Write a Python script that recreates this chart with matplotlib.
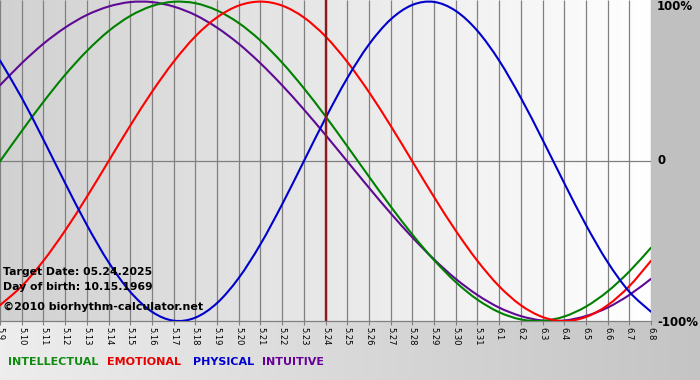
import numpy as np
import matplotlib
matplotlib.use("Agg")
import matplotlib.pyplot as plt
from matplotlib.patches import Rectangle, PathPatch
from matplotlib.path import Path

# ---- data ----
day_labels = ["5.9", "5.10", "5.11", "5.12", "5.13", "5.14", "5.15", "5.16", "5.17", "5.18",
              "5.19", "5.20", "5.21", "5.22", "5.23", "5.24", "5.25", "5.26", "5.27", "5.28",
              "5.29", "5.30", "5.31", "6.1", "6.2", "6.3", "6.4", "6.5", "6.6", "6.7", "6.8"]
target_label = "5.24"

intellectual = [0.0, 0.189, 0.372, 0.541, 0.690, 0.815, 0.910, 0.972, 0.999, 0.990,
                0.945, 0.866, 0.756, 0.618, 0.458, 0.282, 0.095, -0.095, -0.282, -0.458,
                -0.618, -0.756, -0.866, -0.945, -0.990, -0.999, -0.972, -0.910, -0.815, -0.690,
                -0.541]
emotional = [-0.901, -0.782, -0.623, -0.434, -0.223, 0.0, 0.223, 0.434, 0.623, 0.782,
             0.901, 0.975, 1.0, 0.975, 0.901, 0.782, 0.623, 0.434, 0.223, 0.0,
             -0.223, -0.434, -0.623, -0.782, -0.901, -0.975, -1.0, -0.975, -0.901, -0.782,
             -0.623]
physical = [0.631, 0.398, 0.136, -0.136, -0.398, -0.631, -0.817, -0.942, -0.998, -0.979,
            -0.888, -0.731, -0.520, -0.270, 0.0, 0.270, 0.520, 0.731, 0.888, 0.979,
            0.998, 0.942, 0.817, 0.631, 0.398, 0.136, -0.136, -0.398, -0.631, -0.817,
            -0.942]
intuitive = [0.476, 0.614, 0.736, 0.837, 0.916, 0.969, 0.997, 0.997, 0.969, 0.916,
             0.837, 0.736, 0.614, 0.476, 0.325, 0.165, 0.0, -0.165, -0.325, -0.476,
             -0.614, -0.736, -0.837, -0.916, -0.969, -0.997, -0.997, -0.969, -0.916, -0.837,
             -0.736]

series_names = ["INTELLECTUAL", "EMOTIONAL", "PHYSICAL", "INTUITIVE"]
series_colors = ["#008000", "#ff0000", "#0000cc", "#5e0a94"]
legend_colors = ["#108a10", "#e60000", "#0000cc", "#660099"]

info_lines = ["Target Date: 05.24.2025", "Day of birth: 10.15.1969", "\u00a92010 biorhythm-calculator.net"]
y_labels = ["100%", "0", "-100%"]


def smooth_path(xs, ys):
    """Cubic Bezier path through the data points (Catmull-Rom tangents)."""
    pts = np.column_stack([xs, ys]).astype(float)
    ext = np.vstack([pts[0], pts, pts[-1]])
    verts = [pts[0]]
    codes = [Path.MOVETO]
    for i in range(len(pts) - 1):
        p0, p1, p2, p3 = ext[i], ext[i + 1], ext[i + 2], ext[i + 3]
        c1 = p1 + (p2 - p0) / 6.0
        c2 = p2 - (p3 - p1) / 6.0
        verts += [c1, c2, p2]
        codes += [Path.CURVE4] * 3
    return Path(verts, codes)


W, H = 700, 380
fig = plt.figure(figsize=(W / 100, H / 100), dpi=100)

# figure background gradient
bg = fig.add_axes([0, 0, 1, 1], zorder=-10)
grad = np.linspace(0.93, 0.77, 256)[None, :]
bg.imshow(np.dstack([grad, grad, grad]), aspect="auto", extent=[0, 1, 0, 1])
bg.set_axis_off()
fig.patches.append(Rectangle((651 / W, 59 / H), 1, 1, transform=fig.transFigure,
                             color="#c0c0c0", zorder=-5))

x = np.arange(len(day_labels))
ax = fig.add_axes([0, 59 / H, 651 / W, 321 / H])
ax.set_xlim(0, len(day_labels) - 1)
ax.set_ylim(-1.0, 1.01)

# plot background gradient
pg = np.linspace(0.82, 1.0, 256)[None, :]
ax.imshow(np.dstack([pg, pg, pg]), aspect="auto",
          extent=[0, len(day_labels) - 1, -1.0, 1.01], zorder=0)

ax.vlines(x, -1.0, 1.01, color="#808080", lw=0.9, zorder=1)
ax.axhline(0, color="#808080", lw=0.9, zorder=1)

order = [(intuitive, series_colors[3]), (intellectual, series_colors[0]),
         (emotional, series_colors[1]), (physical, series_colors[2])]
for vals, c in order:
    ax.add_patch(PathPatch(smooth_path(x, vals), facecolor="none", edgecolor=c,
                           lw=1.5, zorder=3, capstyle="round", joinstyle="round"))

ti = day_labels.index(target_label)
ax.axvline(ti, color="#8b1a1a", lw=1.7, zorder=4)

for s in ["top", "left", "right"]:
    ax.spines[s].set_visible(False)
ax.spines["bottom"].set_color("#808080")
ax.spines["bottom"].set_linewidth(0.9)
ax.set_yticks([])
ax.set_xticks(x)
ax.set_xticklabels(day_labels, rotation=-90, fontsize=6, va="top", ha="center")
ax.tick_params(axis="x", length=3, color="#808080", pad=1.5, labelcolor="black")

# right side labels
for lab, ypx in zip(y_labels, [7, 161, 322]):
    fig.text(657 / W, 1 - ypx / H, lab, ha="left", va="center",
             fontsize=8.5, fontweight="bold", color="black")

# info text
for lab, ypx, fs in zip(info_lines, [272, 287, 307], [7.8, 7.8, 8.0]):
    fig.text(3 / W, 1 - ypx / H, lab, ha="left", va="center",
             fontsize=fs, fontweight="bold", color="black", zorder=10)

# legend text
for lab, c, xpx in zip(series_names, legend_colors, [8, 107, 193, 262]):
    fig.text(xpx / W, 1 - 362 / H, lab, ha="left", va="center",
             fontsize=8, fontweight="bold", color=c)

fig.savefig("out.png", dpi=100)
